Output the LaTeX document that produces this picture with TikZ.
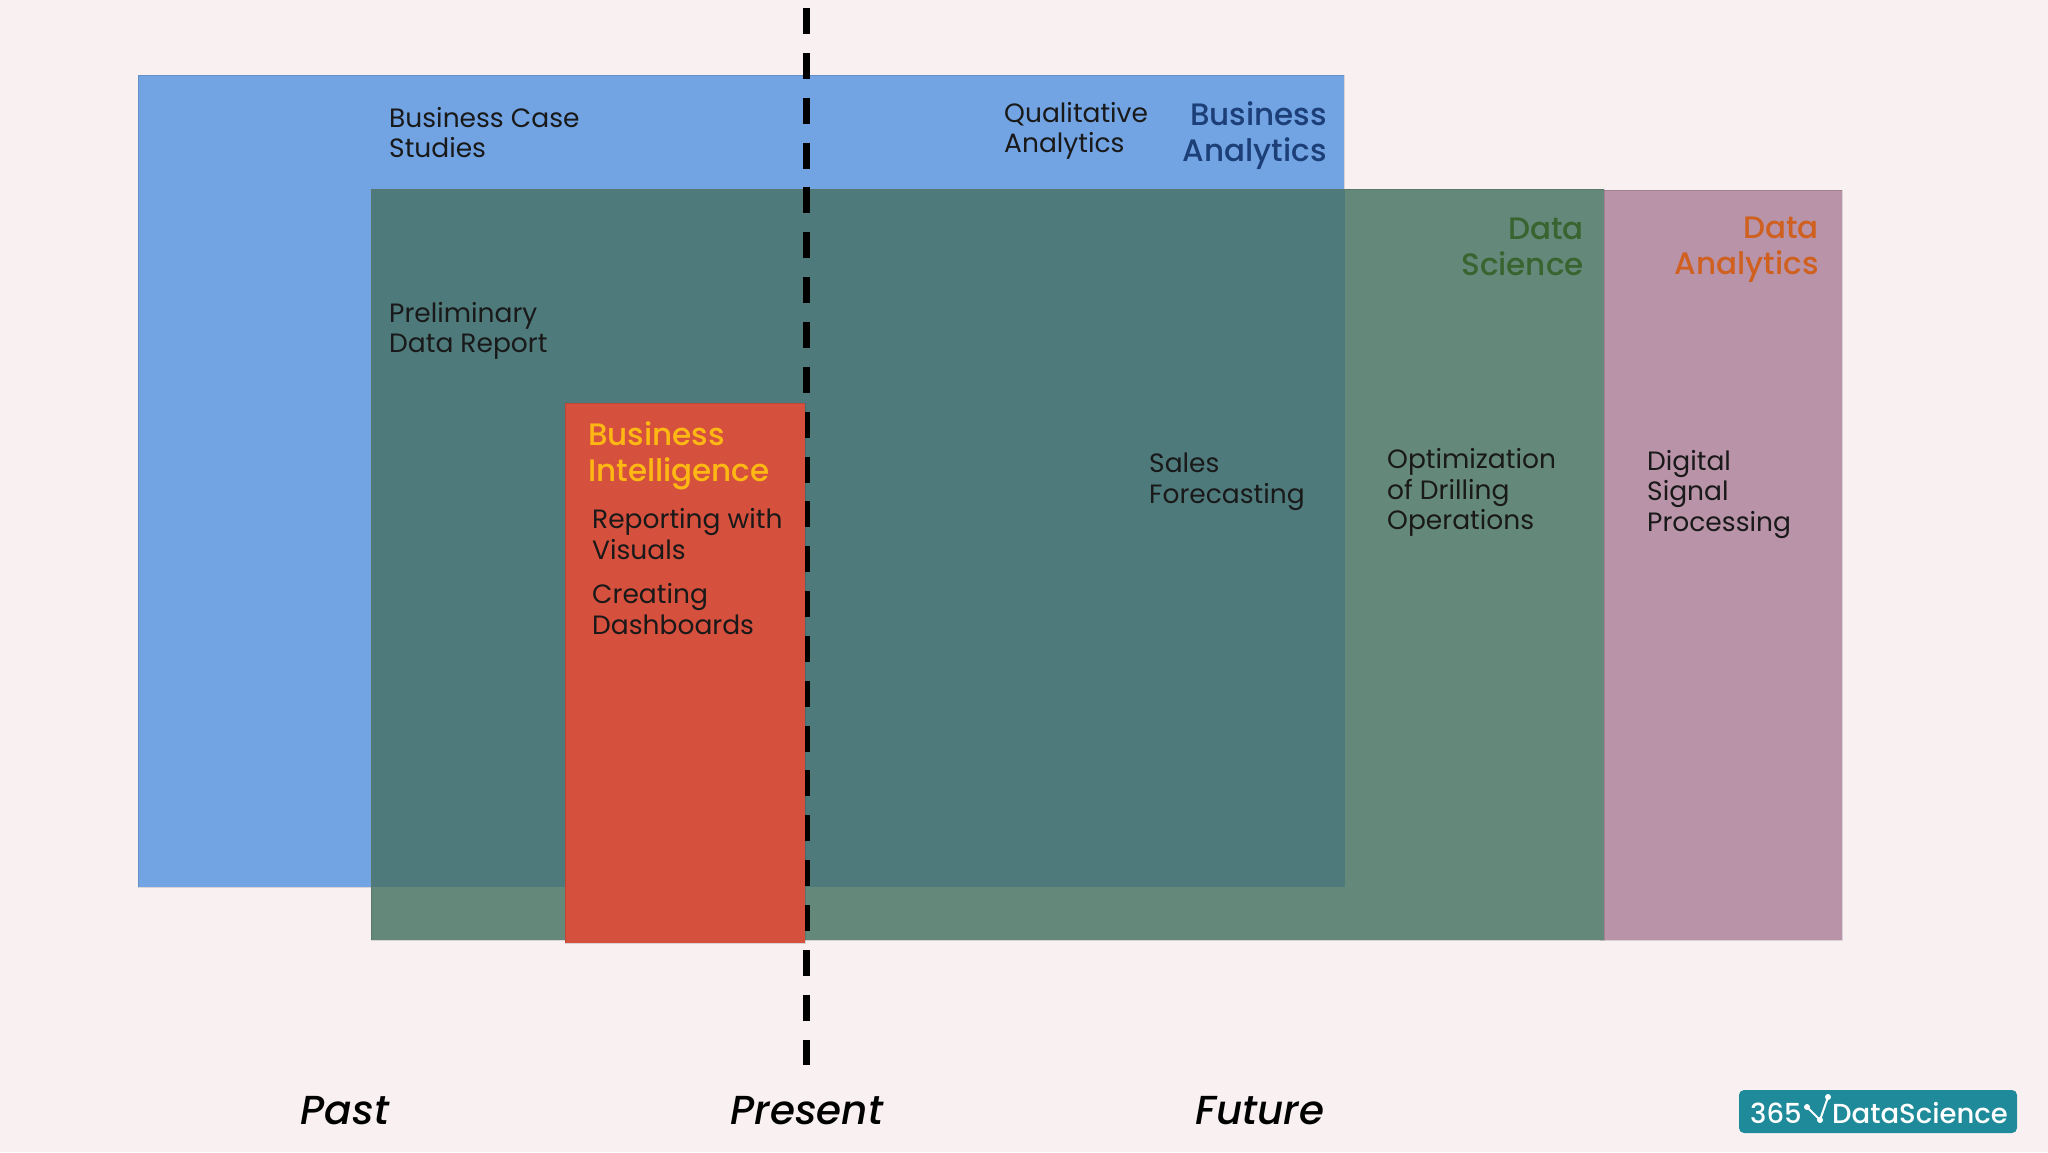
\documentclass[tikz,border=0pt]{standalone}
\usepackage{fontspec}
\setmainfont{Poppins}
\newfontfamily\mediumfont{Poppins Medium}
\definecolor{pagebg}{HTML}{F9F1F1}
\definecolor{bablue}{HTML}{72A4E3}
\definecolor{dsgreen}{HTML}{64897A}
\definecolor{overlapteal}{HTML}{4F7A7C}
\definecolor{dapink}{HTML}{B993A8}
\definecolor{bired}{HTML}{D6503E}
\definecolor{batext}{HTML}{1D3F78}
\definecolor{dstext}{HTML}{3B6330}
\definecolor{datext}{HTML}{CF6020}
\definecolor{bitext}{HTML}{FDB813}
\definecolor{logoteal}{HTML}{1F8A99}
\tikzset{
    fieldbox/.style={draw=black, draw opacity=.12, line width=1pt},
    item/.style={anchor=west, align=left, inner sep=0pt, text=black!90, font=\fontsize{26.5}{30.5}\selectfont},
    fieldname/.style={anchor=east, align=right, inner sep=0pt, font=\fontsize{31}{36}\mediumfont},
    timelabel/.style={inner sep=0pt, font=\fontsize{40.5}{44}\mediumfont\itshape},
    logotext/.style={anchor=west, inner sep=0pt, text=white, font=\fontsize{27.5}{30}\mediumfont},
}
\begin{document}
\begin{tikzpicture}[x=1pt, y=-1pt]
    \useasboundingbox (0,0) rectangle (2048,1152);
    \fill [pagebg] (0,0) rectangle (2048,1152);
    % the four fields
    \fill [bablue, fieldbox] (138,75) rectangle (1344,887);
    \fill [dapink, fieldbox] (1600,190) rectangle (1842,940);
    \fill [dsgreen, fieldbox] (371,189) rectangle (1604,940);
    \fill [overlapteal] (371.5,189.5) rectangle (1345,887);
    % present line goes under the red box
    \draw [black, line width=6.5pt, dash pattern=on 26pt off 18.85pt] (806.5,8) -- (806.5,1065);
    \fill [bired, fieldbox] (565,403) rectangle (805,943);
    % field names
    \node [fieldname, text=batext] (businessanalytics) at (1327,135.5) {Business\\Analytics};
    \node [fieldname, text=dstext] (datascience) at (1584,246.5) {Data\\Science};
    \node [fieldname, text=datext] (dataanalytics) at (1819,250) {Data\\Analytics};
    \node [fieldname, anchor=west, align=left, text=bitext] (businessintel) at (588,456) {Business\\Intelligence};
    % items
    \node [item] (casestudies) at (389,132.5) {Business Case\\Studies};
    \node [item] (qualitative) at (1004,131) {Qualitative\\Analytics};
    \node [item] (prelimreport) at (389,331) {Preliminary\\Data Report};
    \node [item] (reporting) at (592,534) {Reporting with\\Visuals};
    \node [item] (dashboards) at (592,609) {Creating\\Dashboards};
    \node [item] (forecasting) at (1149,482) {Sales\\Forecasting};
    \node [item] (drilling) at (1387,492.5) {Optimization\\of Drilling\\Operations};
    \node [item] (signal) at (1647,494) {Digital\\Signal\\Processing};
    % time axis
    \node [timelabel] (past) at (345,1111) {Past};
    \node [timelabel] (present) at (807,1111) {Present};
    \node [timelabel] (future) at (1260,1111) {Future};
    % logo
    \fill [logoteal, rounded corners=5pt] (1739,1090) rectangle (2017,1133);
    \node [logotext] (logoyears) at (1750,1113) {365};
    \node [logotext] (logoname) at (1832,1113) {DataScience};
    \draw [white, line width=2pt] (1807,1107) -- (1820,1120) -- (1828,1097);
    \fill [white] (1807,1107) circle [radius=3];
    \fill [white] (1820,1120) circle [radius=3];
    \fill [white] (1828,1097) circle [radius=3];
\end{tikzpicture}
\end{document}
